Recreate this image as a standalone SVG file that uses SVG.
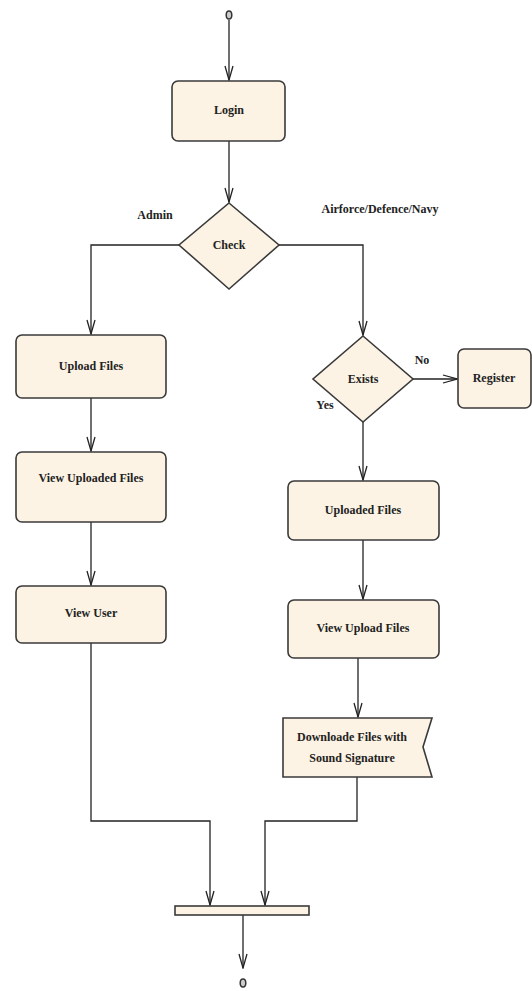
<svg xmlns="http://www.w3.org/2000/svg" width="532" height="991" viewBox="0 0 532 991">
<defs>
<marker id="arr" markerWidth="16" markerHeight="10" refX="15" refY="5" orient="auto" markerUnits="userSpaceOnUse" viewBox="0 0 16 10">
<path d="M1,1 L15,5 L1,9" fill="none" stroke="#222" stroke-width="1.3"/>
</marker>
<style>
.n{fill:#FCF3E4;stroke:#3a3a3a;stroke-width:1.6}
.c{fill:none;stroke:#222;stroke-width:1.3}
.t{font-family:"Liberation Serif",serif;font-weight:bold;font-size:12px;fill:#222;text-anchor:middle}
</style>
</defs>
<rect width="532" height="991" fill="#fff"/>
<g id="connectors">
<path class="c" d="M229,20 V80" marker-end="url(#arr)"/>
<path class="c" d="M229,141 V202" marker-end="url(#arr)"/>
<path class="c" d="M179,245 H91 V334" marker-end="url(#arr)"/>
<path class="c" d="M279,245 H363 V335" marker-end="url(#arr)"/>
<path class="c" d="M413,379 H457" marker-end="url(#arr)"/>
<path class="c" d="M91,398 V451" marker-end="url(#arr)"/>
<path class="c" d="M91,522 V585" marker-end="url(#arr)"/>
<path class="c" d="M363,422 V480" marker-end="url(#arr)"/>
<path class="c" d="M363,540 V599" marker-end="url(#arr)"/>
<path class="c" d="M358,658 V717" marker-end="url(#arr)"/>
<path class="c" d="M91,643 V821 H210 V905" marker-end="url(#arr)"/>
<path class="c" d="M357,777 V821 H265 V905" marker-end="url(#arr)"/>
<path class="c" d="M243,915 V968" marker-end="url(#arr)"/>
</g>
<g id="start"><ellipse cx="229" cy="15" rx="2.8" ry="4" fill="#ccc" stroke="#333" stroke-width="1.5"/></g>
<g id="login"><rect class="n" x="172" y="81" width="113" height="60" rx="6"/><text class="t" x="229" y="114">Login</text></g>
<g id="check"><polygon class="n" points="229,203 279,245 229,289 179,245"/><text class="t" x="229" y="249">Check</text></g>
<g id="lbl-admin"><text class="t" x="155" y="219">Admin</text></g>
<g id="lbl-air"><text class="t" x="380" y="213">Airforce/Defence/Navy</text></g>
<g id="exists"><polygon class="n" points="363,336 413,379 363,422 313,379"/><text class="t" x="363" y="383">Exists</text></g>
<g id="lbl-no"><text class="t" x="422" y="364">No</text></g>
<g id="lbl-yes"><text class="t" x="325" y="409">Yes</text></g>
<g id="register"><rect class="n" x="458" y="349" width="73" height="59" rx="6"/><text class="t" x="494" y="382">Register</text></g>
<g id="upload"><rect class="n" x="16" y="335" width="150" height="63" rx="6"/><text class="t" x="91" y="370">Upload Files</text></g>
<g id="viewuploaded"><rect class="n" x="16" y="452" width="150" height="70" rx="6"/><text class="t" x="91" y="482">View Uploaded Files</text></g>
<g id="viewuser"><rect class="n" x="16" y="586" width="150" height="57" rx="6"/><text class="t" x="91" y="617">View User</text></g>
<g id="uploaded"><rect class="n" x="288" y="481" width="151" height="59" rx="6"/><text class="t" x="363" y="514">Uploaded Files</text></g>
<g id="viewupload"><rect class="n" x="288" y="600" width="151" height="58" rx="6"/><text class="t" x="363" y="632">View Upload Files</text></g>
<g id="download"><polygon class="n" points="283,718 432,718 423,747 432,777 283,777"/><text class="t" x="352" y="741">Downloade Files with</text><text class="t" x="352" y="762">Sound Signature</text></g>
<g id="join"><rect class="n" x="175" y="906" width="134" height="9"/></g>
<g id="end"><ellipse cx="243" cy="983" rx="2.8" ry="4" fill="#ccc" stroke="#333" stroke-width="1.5"/></g>
</svg>
